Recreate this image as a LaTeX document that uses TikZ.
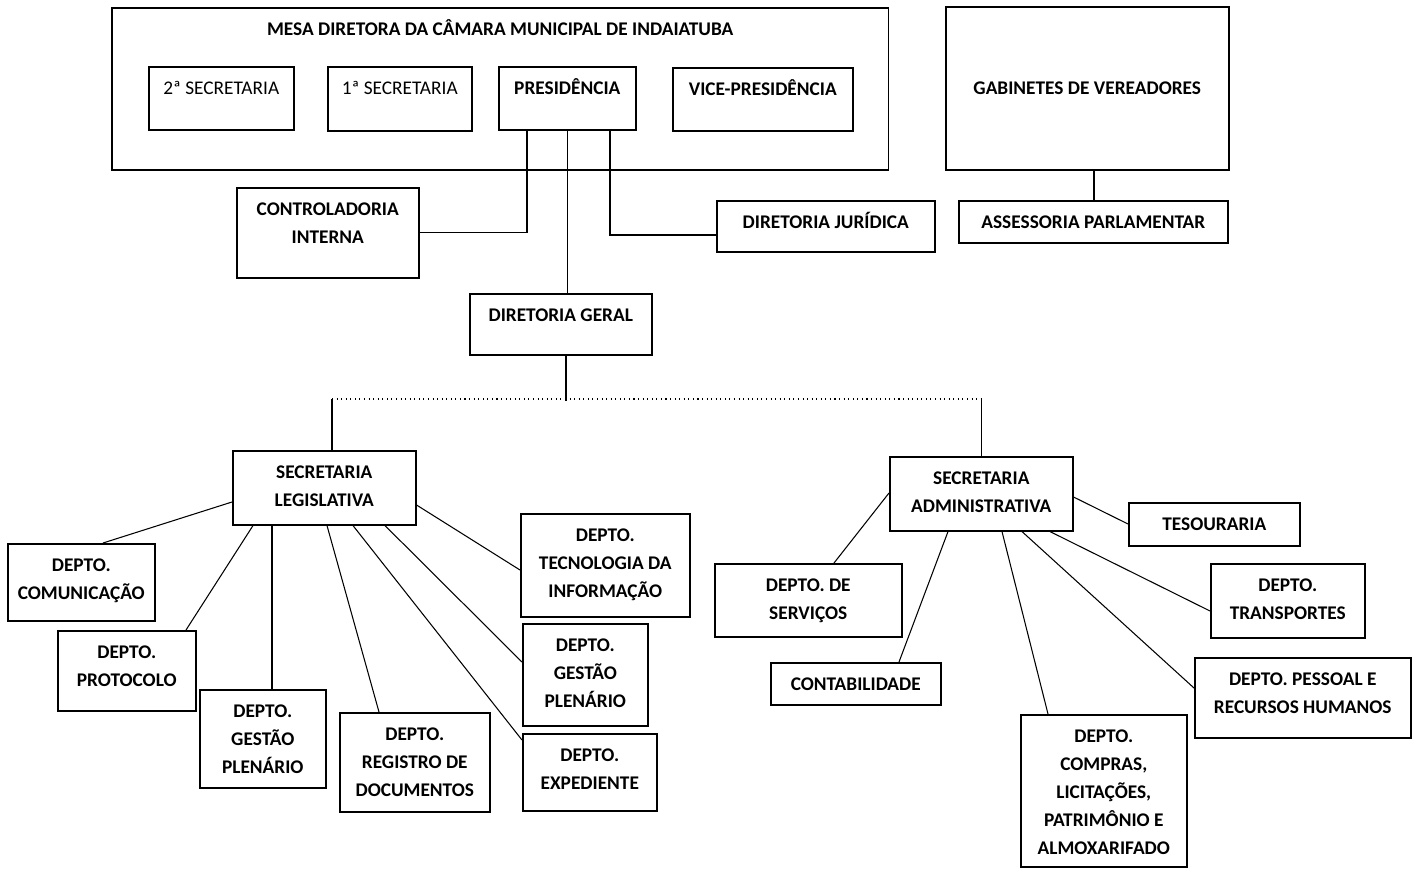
\documentclass[tikz,border=0pt]{standalone}
\usepackage{fontspec}
\setmainfont{Carlito}
\usetikzlibrary{calc}

\begin{document}
\begin{tikzpicture}[
    x=0.02cm, y=-0.02cm,
    box/.style={draw, line width=0.9pt, anchor=north west, inner sep=0pt},
    txt/.style={align=center, inner sep=0pt, font=\fontsize{11}{15.9}\selectfont\bfseries},
    tag/.style={label={[txt, anchor=north, yshift=-5.9pt]north:\rule{0pt}{10pt}#1}},
    link/.style={line width=0.6pt},
]
\useasboundingbox (0,0) rectangle (1417,869);

% mesa diretora
\node[box, minimum width=15.54cm, minimum height=3.24cm, tag={MESA DIRETORA DA CÂMARA MUNICIPAL DE INDAIATUBA}] (mesa) at (111,7) {};
\node[box, minimum width=2.90cm, minimum height=1.26cm, tag={\mdseries 2ª SECRETARIA}] (sec2) at (148,66) {};
\node[box, minimum width=2.88cm, minimum height=1.28cm, tag={\mdseries 1ª SECRETARIA}] (sec1) at (327,66) {};
\node[box, minimum width=2.74cm, minimum height=1.26cm, tag={PRESIDÊNCIA}] (pres) at (498,66) {};
\node[box, minimum width=3.60cm, minimum height=1.26cm, tag={VICE-PRESIDÊNCIA}] (vice) at (672,67) {};

\node[box, txt, minimum width=5.66cm, minimum height=3.26cm] (gab) at (945,6) {GABINETES DE VEREADORES};
\node[box, minimum width=5.38cm, minimum height=0.84cm, tag={ASSESSORIA PARLAMENTAR}] (assess) at (958,200) {};

\node[box, minimum width=3.64cm, minimum height=1.80cm, tag={CONTROLADORIA\\INTERNA}] (ctrl) at (236,187) {};
\node[box, minimum width=4.36cm, minimum height=1.02cm, tag={DIRETORIA JURÍDICA}] (jur) at (716,200) {};
\node[box, minimum width=3.64cm, minimum height=1.22cm, tag={DIRETORIA GERAL}] (dg) at (469,293) {};

% secretaria legislativa
\node[box, minimum width=3.66cm, minimum height=1.48cm, tag={SECRETARIA\\LEGISLATIVA}] (sl) at (232,450) {};
\node[box, minimum width=2.94cm, minimum height=1.54cm, tag={DEPTO.\\COMUNICAÇÃO}] (com) at (7,543) {};
\node[box, minimum width=2.76cm, minimum height=1.60cm, tag={DEPTO.\\PROTOCOLO}] (prot) at (57,630) {};
\node[box, minimum width=2.52cm, minimum height=1.96cm, tag={DEPTO.\\GESTÃO\\PLENÁRIO}] (gp1) at (199,689) {};
\node[box, minimum width=3.00cm, minimum height=1.98cm, tag={DEPTO.\\REGISTRO DE\\DOCUMENTOS}] (reg) at (339,712) {};
\node[box, minimum width=3.38cm, minimum height=2.06cm, tag={DEPTO.\\TECNOLOGIA DA\\INFORMAÇÃO}] (ti) at (520,513) {};
\node[box, minimum width=2.50cm, minimum height=2.04cm, tag={DEPTO.\\GESTÃO\\PLENÁRIO}] (gp2) at (522,623) {};
\node[box, minimum width=2.68cm, minimum height=1.54cm, tag={DEPTO.\\EXPEDIENTE}] (exp) at (522,733) {};

% secretaria administrativa
\node[box, minimum width=3.66cm, minimum height=1.48cm, tag={SECRETARIA\\ADMINISTRATIVA}] (sa) at (889,456) {};
\node[box, minimum width=3.74cm, minimum height=1.46cm, tag={DEPTO. DE\\SERVIÇOS}] (serv) at (714,563) {};
\node[box, minimum width=3.40cm, minimum height=0.84cm, tag={CONTABILIDADE}] (cont) at (770,662) {};
\node[box, minimum width=3.32cm, minimum height=3.04cm, tag={DEPTO.\\COMPRAS,\\LICITAÇÕES,\\PATRIMÔNIO E\\ALMOXARIFADO}] (comp) at (1020,714) {};
\node[box, minimum width=3.42cm, minimum height=0.86cm, tag={TESOURARIA}] (tes) at (1128,502) {};
\node[box, minimum width=3.08cm, minimum height=1.48cm, tag={DEPTO.\\TRANSPORTES}] (transp) at (1210,563) {};
\node[box, minimum width=4.32cm, minimum height=1.60cm, tag={DEPTO. PESSOAL E\\RECURSOS HUMANOS}] (pess) at (1194,657) {};

% ligacoes superiores
\draw[link] ($(pres.south west)+(29,0)$) |- (ctrl.east);
\draw[link] (pres.south) -- (pres.south |- dg.north);
\draw[link] ($(pres.south west)+(112,0)$) |- ($(jur.north west)+(0,35)$);
\draw[link] ($(gab.south west)+(149,0)$) -- ($(assess.north west)+(136,0)$);

% barramento
\draw[link] ($(dg.south west)+(97,0)$) -- ($(dg.south west)+(97,45)$);
\draw[link] ($(sl.north west)+(100,0)$) -- ++(0,-51) coordinate (busl);
\draw[link] (sa.north) -- ++(0,-57) coordinate (busr);
\draw[link, dotted] (busl) -- (busr);

% legislativa
\draw[link] ($(sl.north west)+(0,52)$) -- ($(com.north west)+(96,0)$);
\draw[link] ($(sl.south west)+(21,0)$) -- ($(prot.north west)+(129,0)$);
\draw[link] ($(sl.south west)+(40,0)$) -- ($(gp1.north west)+(73,0)$);
\draw[link] ($(sl.south west)+(95,0)$) -- ($(reg.north west)+(40,0)$);
\draw[link] ($(sl.south west)+(121,0)$) -- ($(exp.north west)+(0,7)$);
\draw[link] ($(sl.south west)+(153,0)$) -- ($(gp2.north west)+(0,39)$);
\draw[link] ($(sl.north east)+(0,55)$) -- ($(ti.north west)+(0,57)$);

% administrativa
\draw[link] ($(sa.north west)+(0,37)$) -- ($(serv.north west)+(120,0)$);
\draw[link] ($(sa.south west)+(59,0)$) -- ($(cont.north west)+(129,0)$);
\draw[link] ($(sa.south west)+(113,0)$) -- ($(comp.north west)+(28,0)$);
\draw[link] ($(sa.south west)+(133,0)$) -- ($(pess.north west)+(0,31)$);
\draw[link] ($(sa.south west)+(161,0)$) -- ($(transp.north west)+(0,48)$);
\draw[link] ($(sa.north east)+(0,41)$) -- ($(tes.north west)+(0,22)$);
\end{tikzpicture}
\end{document}
